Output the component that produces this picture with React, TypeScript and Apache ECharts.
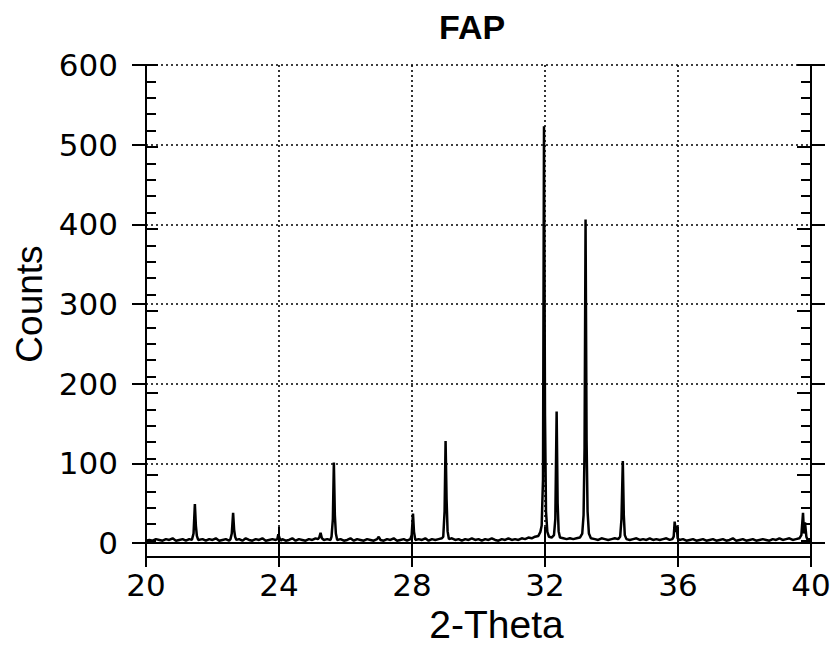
import React, { useEffect, useRef } from "react";
import * as echarts from "echarts";

// 2-Theta scan (degrees) and counts
const scanA: number[][] = [
  [20.0, 3], [20.1, 4], [20.2, 3], [20.3, 5], [20.4, 4], [20.5, 3], [20.6, 5], [20.7, 4], [20.8, 6], [20.9, 3],
  [21.0, 4], [21.1, 5], [21.2, 3], [21.3, 5],
  [21.38, 4], [21.43, 12], [21.47, 49], [21.5, 22], [21.53, 9], [21.57, 4],
  [21.7, 5], [21.8, 3], [21.9, 5], [22.0, 4], [22.1, 6], [22.2, 3], [22.3, 4], [22.4, 5], [22.5, 3],
  [22.54, 5], [22.58, 12], [22.62, 38], [22.65, 17], [22.68, 8], [22.72, 4],
  [22.8, 5], [22.9, 3], [23.0, 6], [23.1, 4], [23.2, 3], [23.3, 5], [23.4, 4], [23.5, 6], [23.6, 3], [23.7, 4],
  [23.8, 5], [23.9, 4],
  [23.95, 5], [23.98, 11], [24.02, 6], [24.06, 3],
];
const scanB: number[][] = [
  [24.1, 5], [24.2, 3], [24.3, 4], [24.4, 6], [24.5, 3], [24.6, 5], [24.7, 4], [24.8, 3], [24.9, 5], [25.0, 4],
  [25.1, 6], [25.17, 5],
  [25.21, 7], [25.25, 13], [25.29, 6],
  [25.35, 4], [25.45, 5], [25.55, 4],
  [25.58, 8], [25.62, 30], [25.65, 101], [25.68, 35], [25.71, 12], [25.75, 4],
  [25.85, 5], [25.95, 3], [26.05, 4], [26.15, 6], [26.25, 3], [26.35, 5], [26.45, 4], [26.55, 3], [26.65, 5],
  [26.75, 4], [26.85, 3], [26.95, 5], [27.0, 8], [27.05, 4], [27.15, 3], [27.25, 5], [27.35, 4], [27.45, 6],
  [27.55, 3], [27.65, 4], [27.75, 5], [27.85, 3], [27.95, 5],
  [27.99, 10], [28.03, 37], [28.06, 14], [28.1, 4],
];
const scanC: number[][] = [
  [28.2, 5], [28.3, 4], [28.4, 6], [28.5, 3], [28.6, 5], [28.7, 4], [28.8, 5], [28.9, 6],
  [28.94, 8], [28.98, 40], [29.01, 128], [29.04, 55], [29.07, 15], [29.11, 5],
  [29.2, 6], [29.3, 4], [29.4, 5], [29.5, 3], [29.6, 5], [29.7, 4], [29.8, 6], [29.9, 4], [30.0, 5], [30.1, 3],
  [30.2, 5], [30.3, 4], [30.4, 6], [30.5, 4], [30.6, 3], [30.7, 5], [30.8, 4], [30.9, 6], [31.0, 4], [31.1, 5],
  [31.2, 4], [31.3, 6], [31.4, 5], [31.5, 7], [31.6, 6], [31.7, 8], [31.8, 9], [31.86, 14],
  [31.9, 22], [31.94, 80], [31.97, 523], [32.0, 160], [32.03, 40], [32.07, 14], [32.12, 8], [32.2, 7], [32.27, 10],
  [32.31, 30], [32.35, 165], [32.38, 50], [32.41, 15], [32.45, 7],
  [32.55, 6], [32.65, 5], [32.75, 6], [32.85, 5], [32.95, 6], [33.05, 7], [33.12, 12],
  [33.16, 35], [33.19, 120], [33.22, 406], [33.25, 130], [33.28, 40], [33.32, 12], [33.38, 6],
];
const scanD: number[][] = [
  [33.5, 5], [33.6, 4], [33.7, 6], [33.8, 5], [33.9, 4], [34.0, 5], [34.1, 6], [34.2, 5], [34.26, 8],
  [34.3, 30], [34.34, 103], [34.37, 35], [34.4, 10], [34.45, 5],
  [34.55, 4], [34.65, 5], [34.75, 6], [34.85, 4], [34.95, 5], [35.05, 4], [35.15, 6], [35.25, 4], [35.35, 5],
  [35.45, 4], [35.55, 5], [35.65, 6], [35.75, 4], [35.83, 5],
  [35.87, 8], [35.9, 27], [35.93, 14], [35.96, 22], [35.99, 6], [36.04, 4],
  [36.15, 5], [36.25, 3], [36.35, 4], [36.45, 5], [36.55, 3], [36.65, 4], [36.75, 5], [36.85, 3], [36.95, 4],
  [37.05, 5], [37.15, 3], [37.25, 4], [37.35, 5], [37.45, 3], [37.55, 4], [37.65, 6], [37.75, 3], [37.85, 4],
  [37.95, 5], [38.05, 3], [38.15, 4], [38.25, 5], [38.35, 3], [38.45, 4], [38.55, 5], [38.65, 4], [38.75, 3],
  [38.85, 5], [38.95, 4], [39.05, 6], [39.15, 4], [39.25, 5], [39.35, 6], [39.45, 4], [39.55, 5], [39.65, 6],
  [39.71, 10], [39.76, 38], [39.79, 12], [39.82, 26], [39.86, 8], [39.9, 4], [39.95, 5], [40.0, 4],
];

const xMin = 20, xMax = 40, xStep = 4;
const yMin = 0, yMax = 600, yStep = 100;
const titleText = "FAP";
const xName = "2-Theta";
const yName = "Counts";

const labelFont = "DejaVu Sans";
const nameFont = "Liberation Sans";

export default function App() {
  const ref = useRef<HTMLDivElement>(null);
  useEffect(() => {
    if (!ref.current) return;
    const chart = echarts.init(ref.current, undefined, { renderer: "svg" });
    const data = [...scanA, ...scanB, ...scanC, ...scanD];
    const gridRect = { left: 146, right: 28, top: 65, bottom: 92 };
    const axisLine = { show: true, lineStyle: { color: "#000", width: 2 } };
    const dotted = { show: true, lineStyle: { color: "#000", width: 1.6, type: [2, 3] as any } };
    const xBase = { type: "value" as const, min: xMin, max: xMax, interval: xStep };
    const yBase = { type: "value" as const, min: yMin, max: yMax, interval: yStep };
    chart.setOption({
      animation: false,
      backgroundColor: "#fff",
      title: {
        text: titleText,
        left: 434,
        top: 5,
        textStyle: { fontFamily: nameFont, fontSize: 34, fontWeight: "bold", color: "#000" },
      },
      grid: [
        { ...gridRect },
        { ...gridRect },
      ],
      xAxis: [
        {
          ...xBase, gridIndex: 0, position: "bottom",
          axisLine, splitLine: dotted,
          axisTick: { show: true, inside: false, length: 16, lineStyle: { color: "#000", width: 2 } },
          axisLabel: { show: true, margin: 26, fontFamily: labelFont, fontSize: 31, color: "#000" },
          name: xName, nameLocation: "middle", nameGap: 51,
          nameTextStyle: { fontFamily: nameFont, fontSize: 39, color: "#000", padding: [0, 0, 0, 36] },
        },
        {
          ...xBase, gridIndex: 0, position: "top",
          axisLine, splitLine: { show: false },
          axisTick: { show: true, inside: false, length: 16, lineStyle: { color: "#000", width: 2 } },
          axisLabel: { show: false },
        },
        {
          ...xBase, gridIndex: 1, position: "bottom",
          axisLine, splitLine: { show: false },
          axisTick: { show: true, inside: true, length: 10, lineStyle: { color: "#000", width: 2 } },
          axisLabel: { show: false },
        },
        {
          ...xBase, gridIndex: 1, position: "top",
          axisLine, splitLine: { show: false },
          axisTick: { show: true, inside: true, length: 10, lineStyle: { color: "#000", width: 2 } },
          axisLabel: { show: false },
        },
      ],
      yAxis: [
        {
          ...yBase, gridIndex: 0, position: "left",
          axisLine, splitLine: dotted,
          axisTick: { show: true, inside: false, length: 14, lineStyle: { color: "#000", width: 2 } },
          axisLabel: { show: true, margin: 28, fontFamily: labelFont, fontSize: 31, color: "#000" },
          name: yName, nameLocation: "middle", nameGap: 96,
          nameTextStyle: { fontFamily: nameFont, fontSize: 37, color: "#000" },
        },
        {
          ...yBase, gridIndex: 0, position: "right",
          axisLine, splitLine: { show: false },
          axisTick: { show: true, inside: false, length: 14, lineStyle: { color: "#000", width: 2 } },
          axisLabel: { show: false },
        },
        {
          ...yBase, gridIndex: 1, position: "left",
          axisLine, splitLine: { show: false },
          axisTick: { show: true, inside: true, length: 12, lineStyle: { color: "#000", width: 2 } },
          minorTick: { show: true, splitNumber: 5, length: 10, lineStyle: { color: "#000", width: 2 } },
          axisLabel: { show: false },
        },
        {
          ...yBase, gridIndex: 1, position: "right",
          axisLine, splitLine: { show: false },
          axisTick: { show: true, inside: true, length: 14, lineStyle: { color: "#000", width: 2 } },
          minorTick: { show: true, splitNumber: 5, length: 10, lineStyle: { color: "#000", width: 2 } },
          axisLabel: { show: false },
        },
      ],
      series: [
        {
          type: "line",
          xAxisIndex: 0,
          yAxisIndex: 0,
          data,
          showSymbol: false,
          symbol: "none",
          lineStyle: { color: "#000", width: 2.5 },
          z: 5,
        },
      ],
    });
    return () => chart.dispose();
  }, []);
  return (
    <div
      ref={ref}
      style={{ position: "fixed", left: 0, top: 0, width: 839, height: 649 }}
    />
  );
}
